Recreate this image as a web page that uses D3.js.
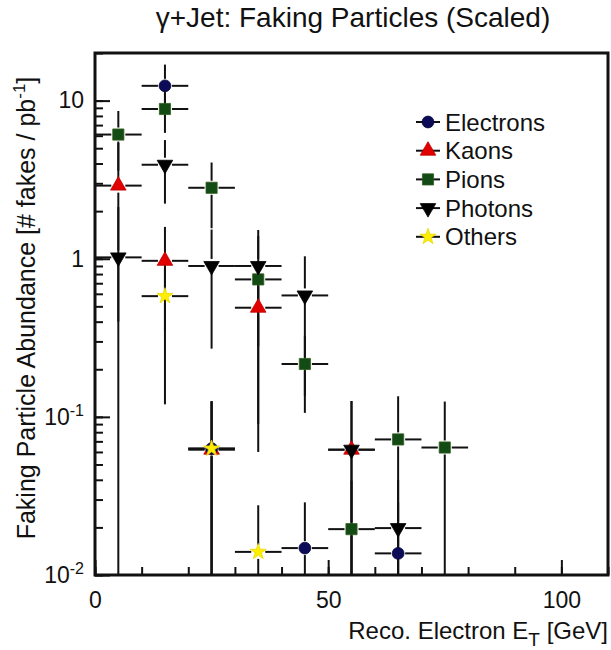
<!DOCTYPE html>
<html>
<head>
<meta charset="utf-8">
<script src="https://cdn.jsdelivr.net/npm/d3@7"></script>
<style>
  body { margin: 0; background: #fff; }
  text { font-family: "Liberation Sans", Arial, Helvetica, sans-serif; fill: #111; }
</style>
</head>
<body>
<div id="chart"></div>
<script>
// bin half width in GeV (horizontal error bars)
const binHalf = 5;

const electronX = [15, 25, 45, 65];
const electronY = [12.4, 0.063, 0.0148, 0.0137];
const electronErr = [4.5, 0.063, 0.014, 0.015];

const kaonX = [5, 15, 25, 35, 55];
const kaonY = [2.9, 0.97, 0.062, 0.49, 0.062];
const kaonErr = [2.5, 0.62, 0.062, 0.43, 0.064];

const pionX = [5, 15, 25, 35, 45, 55, 65, 75];
const pionY = [6.1, 8.85, 2.81, 0.74, 0.216, 0.0195, 0.072, 0.064];
const pionErr = [2.5, 2.6, 1.25, 0.65, 0.11, 0.02, 0.063, 0.061];

const photonX = [5, 15, 25, 35, 45, 55, 65];
const photonY = [1.02, 3.93, 0.9, 0.9, 0.586, 0.062, 0.0198];
const photonErr = [1.1, 1.7, 0.63, 0.62, 0.45, 0.064, 0.02];

const otherX = [15, 25, 35];
const otherY = [0.58, 0.063, 0.014];
const otherErr = [0.46, 0.063, 0.0136];

const xTicks = [0, 50, 100];
const yTicks = [0.01, 0.1, 1, 10];
const legendNames = ['Electrons', 'Kaons', 'Pions', 'Photons', 'Others'];

const W = 611, H = 650;
const margin = { top: 53, right: 3, bottom: 75, left: 95 };

const svg = d3.select('#chart').append('svg')
    .attr('width', W)
    .attr('height', H);

const x = d3.scaleLinear().domain([0, 110]).range([margin.left, W - margin.right]);
const y = d3.scaleLog().domain([0.01, 20]).range([H - margin.bottom, margin.top]);

const zip = (xs, ys, es) => xs.map((v, i) => ({ x: v, y: ys[i], e: es[i] }));

// draw order matters: later markers sit on top
const series = [
    { name: 'Kaons', pts: zip(kaonX, kaonY, kaonErr), sym: d3.symbolTriangle, size: 105, rot: 0, fill: '#e00000', stroke: '#c00000' },
    { name: 'Electrons', pts: zip(electronX, electronY, electronErr), sym: d3.symbolCircle, size: 110, rot: 0, fill: '#0b0b58', stroke: '#05053a' },
    { name: 'Pions', pts: zip(pionX, pionY, pionErr), sym: d3.symbolSquare, size: 125, rot: 0, fill: '#124b14', stroke: '#355e22' },
    { name: 'Photons', pts: zip(photonX, photonY, photonErr), sym: d3.symbolTriangle, size: 105, rot: 180, fill: '#000', stroke: '#000' },
    { name: 'Others', pts: zip(otherX, otherY, otherErr), sym: d3.symbolStar, size: 80, rot: 0, fill: '#ffee00', stroke: '#e8d800' }
];

// Axes (ticks inside the frame)
const xAxis = svg.append('g').attr('transform', `translate(0,${H - margin.bottom})`);
xAxis.call(d3.axisBottom(x).tickValues(x.ticks(11)).tickSizeInner(-8).tickSizeOuter(0).tickFormat(''));
xAxis.append('g').call(d3.axisBottom(x).tickValues(xTicks).tickSizeInner(-15).tickSizeOuter(0).tickPadding(17));
xAxis.selectAll('.domain').remove();
xAxis.selectAll('.tick line').attr('stroke', '#111').attr('stroke-width', 2);
xAxis.selectAll('.tick text').attr('font-size', 23).attr('fill', '#111');

const yAxis = svg.append('g').attr('transform', `translate(${margin.left},0)`);
yAxis.call(d3.axisLeft(y).tickValues(y.ticks()).tickSizeInner(-8).tickSizeOuter(0).tickFormat(''));
const yMajor = yAxis.append('g').call(d3.axisLeft(y).tickValues(yTicks).tickSizeInner(-15).tickSizeOuter(0).tickPadding(11).tickFormat(''));
yAxis.selectAll('.domain').remove();
yAxis.selectAll('.tick line').attr('stroke', '#111').attr('stroke-width', 2);
yMajor.selectAll('.tick text')
    .attr('font-size', 23)
    .attr('fill', '#111')
    .each(function (d) {
        const t = d3.select(this);
        const p = Math.round(Math.log10(d));
        if (p >= 0) {
            t.text(String(d));
        } else {
            t.append('tspan').text('10');
            t.append('tspan').attr('font-size', 16).attr('dy', -9).text(String(p));
        }
    });

// Frame
svg.append('rect')
    .attr('x', margin.left)
    .attr('y', margin.top)
    .attr('width', W - margin.right - margin.left)
    .attr('height', H - margin.bottom - margin.top)
    .attr('fill', 'none')
    .attr('stroke', '#111')
    .attr('stroke-width', 3);

// Error bars, with a small gap round each marker
const gap = 7;
const yBottom = H - margin.bottom;
const errG = svg.append('g').attr('stroke', '#111').attr('stroke-width', 2);
series.forEach(s => {
    s.pts.forEach(p => {
        const cx = x(p.x), cy = y(p.y);
        const lo = p.y - p.e > y.domain()[0] ? y(p.y - p.e) : yBottom;
        const hi = y(p.y + p.e);
        const segs = [
            [cx, hi, cx, cy - gap],
            [cx, cy + gap, cx, lo],
            [x(p.x - binHalf), cy, cx - gap, cy],
            [cx + gap, cy, x(p.x + binHalf), cy]
        ];
        segs.forEach(sg => {
            const len = Math.abs(sg[2] - sg[0]) + Math.abs(sg[3] - sg[1]);
            if ((sg[1] <= sg[3] || sg[0] < sg[2]) && len > 0.5) {
                errG.append('line')
                    .attr('x1', sg[0]).attr('y1', sg[1])
                    .attr('x2', sg[2]).attr('y2', sg[3]);
            }
        });
    });
});

// Markers
series.forEach(s => {
    svg.append('g').selectAll('path')
        .data(s.pts)
        .join('path')
        .attr('d', d3.symbol().type(s.sym).size(s.size))
        .attr('transform', d => `translate(${x(d.x)},${y(d.y)}) rotate(${s.rot})`)
        .attr('fill', s.fill)
        .attr('stroke', s.stroke)
        .attr('stroke-width', 0.8);
});

// Legend
const legend = svg.append('g');
legendNames.forEach((name, i) => {
    const s = series.find(d => d.name === name);
    const ly = 122 + i * 28.7;
    legend.append('line')
        .attr('x1', 416).attr('x2', 440)
        .attr('y1', ly).attr('y2', ly)
        .attr('stroke', '#111').attr('stroke-width', 2);
    legend.append('path')
        .attr('d', d3.symbol().type(s.sym).size(s.size))
        .attr('transform', `translate(428,${ly}) rotate(${s.rot})`)
        .attr('fill', s.fill)
        .attr('stroke', s.stroke)
        .attr('stroke-width', 0.8);
    legend.append('text')
        .attr('x', 445).attr('y', ly + 8.5)
        .attr('font-size', 24)
        .text(name);
});

// Title
svg.append('text')
    .attr('x', 353).attr('y', 27)
    .attr('text-anchor', 'middle')
    .attr('font-size', 28)
    .text('\u03b3+Jet: Faking Particles (Scaled)');

// X axis label
const xl = svg.append('text')
    .attr('x', W - margin.right).attr('y', 639)
    .attr('text-anchor', 'end')
    .attr('font-size', 24);
xl.append('tspan').text('Reco. Electron E');
xl.append('tspan').attr('dy', 7).attr('font-size', 19).text('T');
xl.append('tspan').attr('dy', -7).text(' [GeV]');

// Y axis label
const yl = svg.append('text')
    .attr('transform', 'translate(35,308) rotate(-90)')
    .attr('text-anchor', 'middle')
    .attr('font-size', 25);
yl.append('tspan').text('Faking Particle Abundance [# fakes / pb');
yl.append('tspan').attr('dy', -10).attr('font-size', 17).text('-1');
yl.append('tspan').attr('dy', 10).text(']');
</script>
</body>
</html>
